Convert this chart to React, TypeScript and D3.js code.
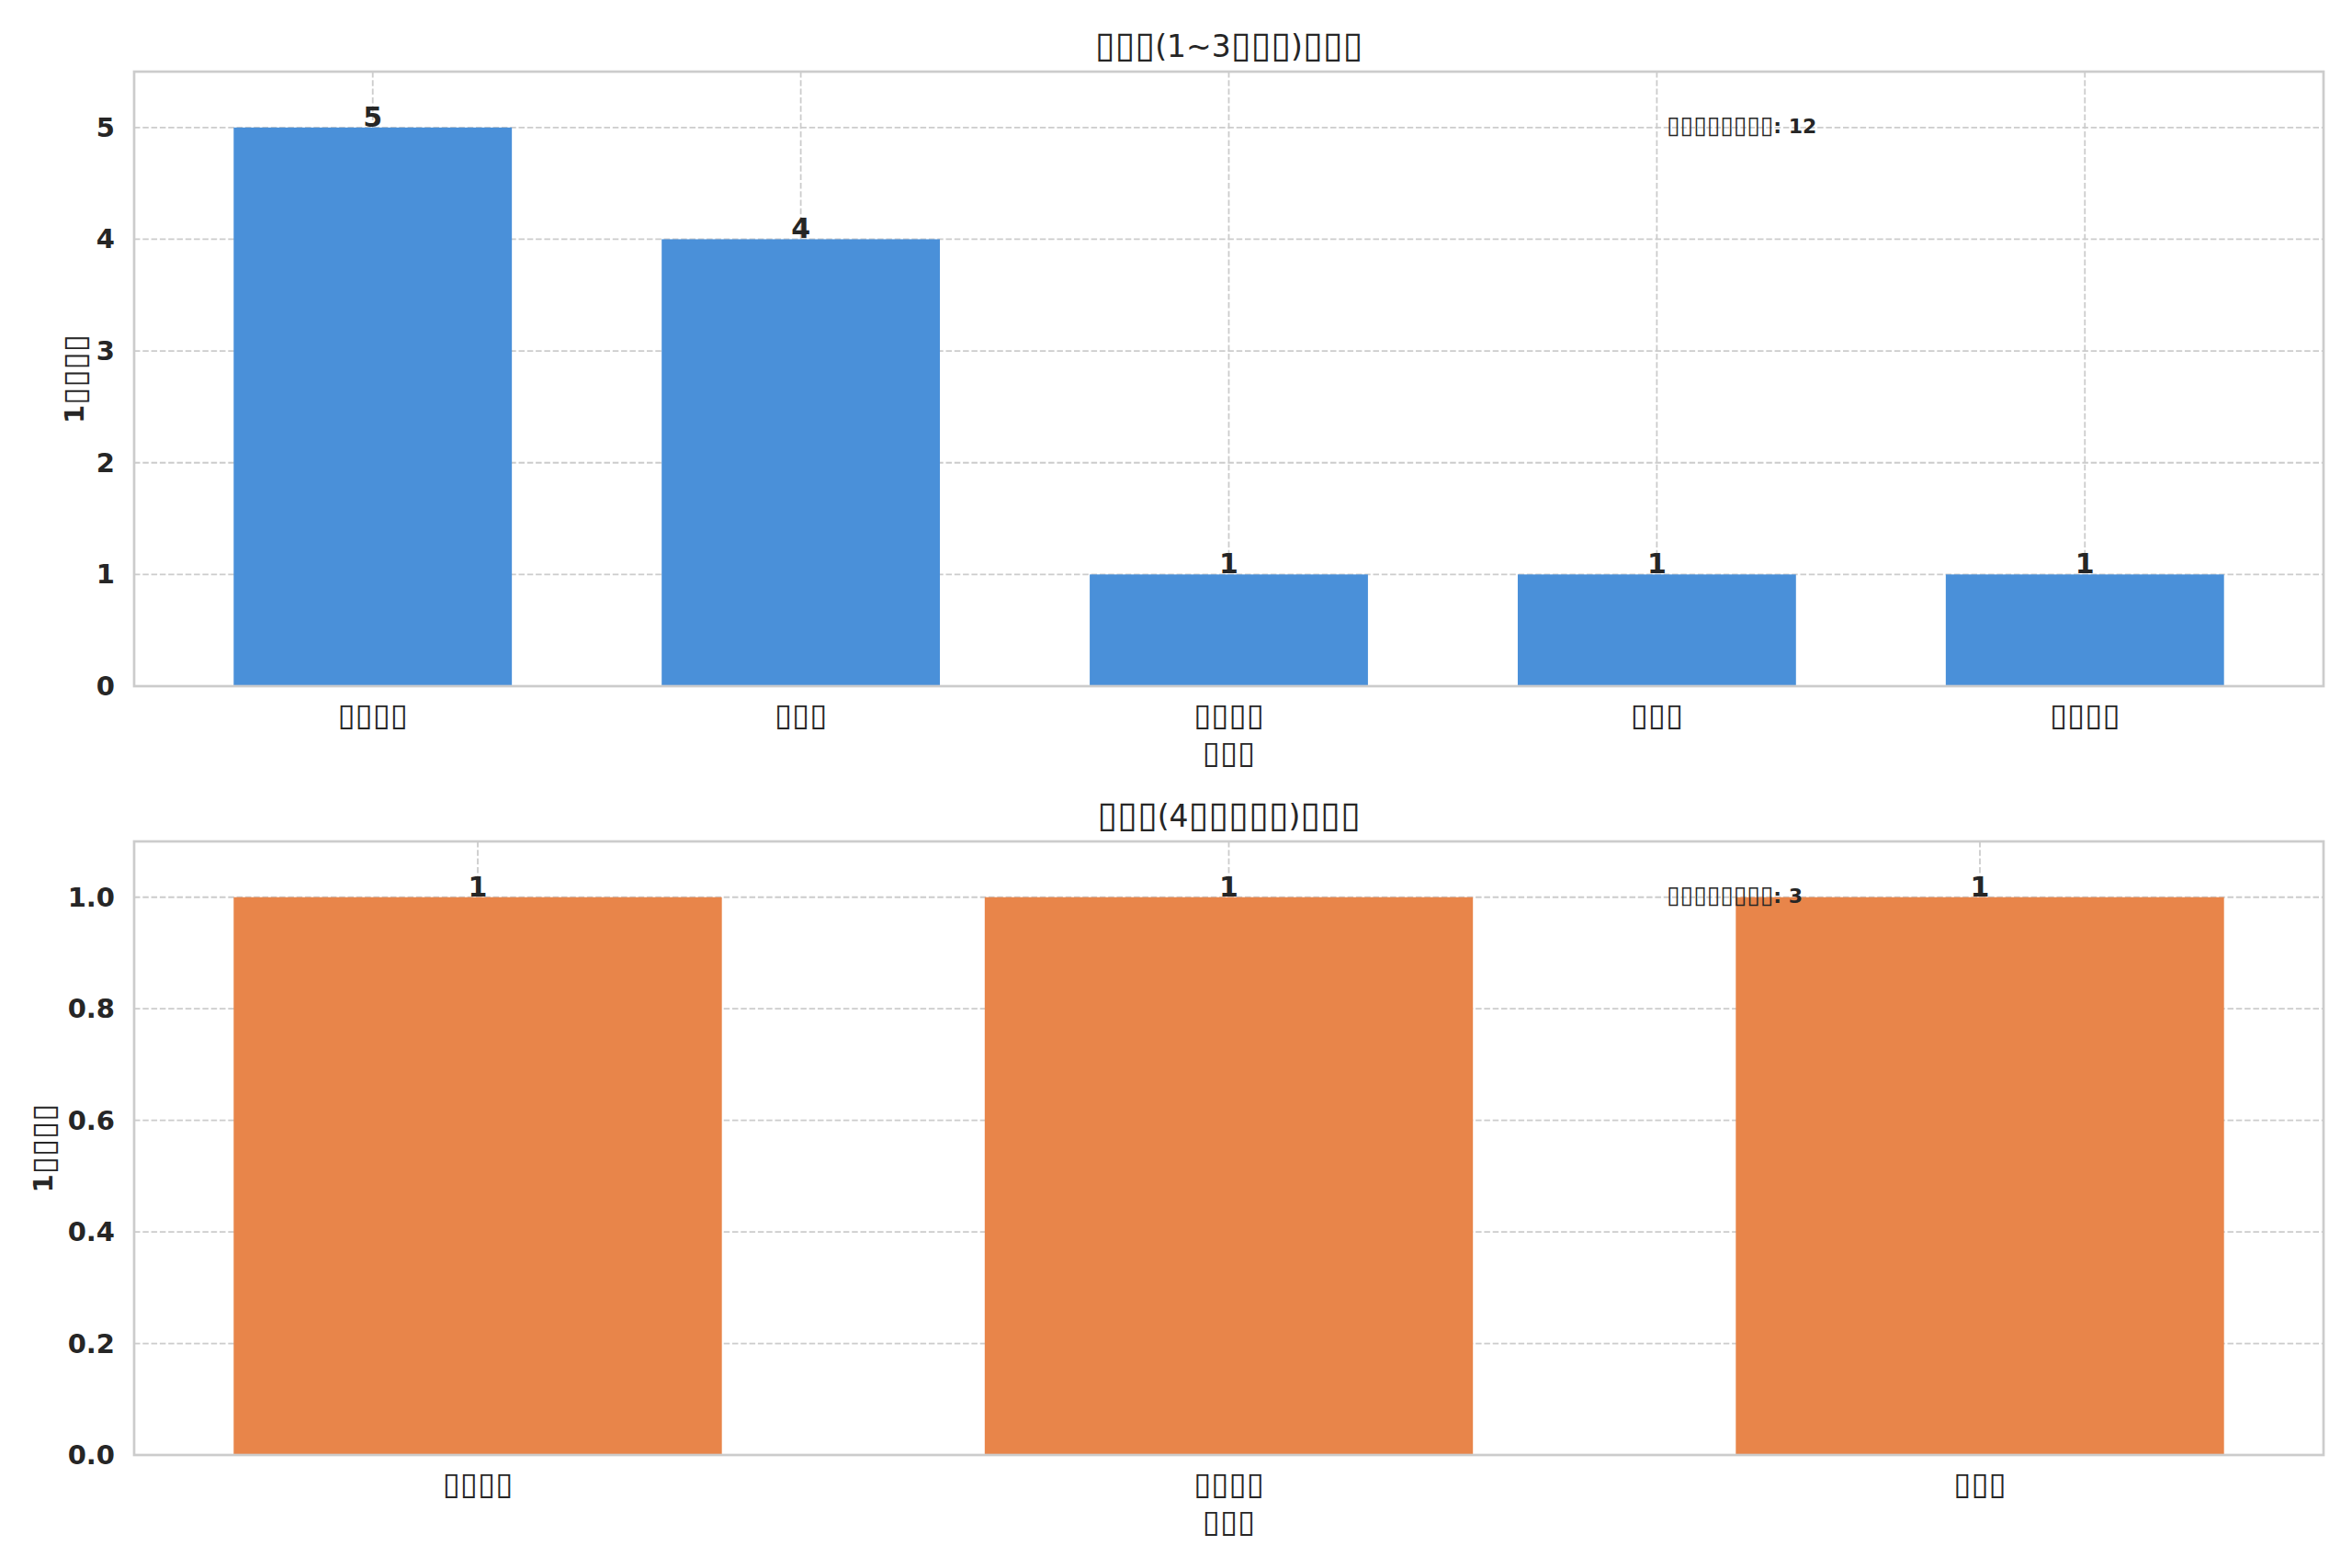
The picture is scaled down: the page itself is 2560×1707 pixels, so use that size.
import * as d3 from 'd3';

// tofu boxes stand in for the CJK glyphs that the source font could not draw
const topCategories = ['▯▯▯▯', '▯▯▯', '▯▯▯▯', '▯▯▯', '▯▯▯▯'];
const topCounts = [5, 4, 1, 1, 1];
const topTicks = [0, 1, 2, 3, 4, 5];

const bottomCategories = ['▯▯▯▯', '▯▯▯▯', '▯▯▯'];
const bottomCounts = [1, 1, 1];
const bottomTicks = [0, 0.2, 0.4, 0.6, 0.8, 1.0];

const topTitle = '▯▯▯(1~3▯▯▯)▯▯▯';
const bottomTitle = '▯▯▯(4▯▯▯▯▯)▯▯▯';
const xLabel = '▯▯▯';
const yLabel = '1▯▯▯▯';
const totalLabel = '▯▯▯▯▯▯▯▯';

const W = 2560;
const H = 1707;
const FONT = '"DejaVu Sans", sans-serif';
const TEXT = '#262626';
const GRID = '#cccccc';

// draw the box runs a bit larger so they fill the room of the missing glyphs
function tofu(s: string) {
  return s.split(/(▯+)/).filter(p => p.length).map((p, i) =>
    p[0] === '▯'
      ? <tspan key={i} style={{ fontSize: '1.2em', fontWeight: 'normal' }}>{p}</tspan>
      : <tspan key={i}>{p}</tspan>
  );
}

interface PanelProps {
  categories: string[];
  values: number[];
  ticks: number[];
  fmt: (v: number) => string;
  color: string;
  title: string;
  y0: number;
  y1: number;
  yLabelX: number;
}

function Panel({ categories, values, ticks, fmt, color, title, y0, y1, yLabelX }: PanelProps) {
  const left = 146;
  const right = 2529;
  const barW = 0.65;
  const n = categories.length;
  const m = 0.05 * (n - 1 + barW);

  const x = d3.scaleLinear()
    .domain([-barW / 2 - m, n - 1 + barW / 2 + m])
    .range([left, right]);
  const y = d3.scaleLinear()
    .domain([0, d3.max(values)! * 1.1])
    .range([y1, y0]);

  const unit = x(1) - x(0);
  const total = d3.sum(values);

  return (
    <g>
      {/* grid */}
      {ticks.map(t => (
        <line key={'h' + t} x1={left} x2={right} y1={y(t)} y2={y(t)}
          stroke={GRID} strokeWidth={1.8} strokeDasharray="6.5,2.8" />
      ))}
      {categories.map((c, i) => (
        <line key={'v' + i} x1={x(i)} x2={x(i)} y1={y0} y2={y1}
          stroke={GRID} strokeWidth={1.8} strokeDasharray="6.5,2.8" />
      ))}

      {/* bars */}
      {values.map((v, i) => (
        <rect key={'b' + i} x={x(i) - (barW * unit) / 2} width={barW * unit}
          y={y(v)} height={y(0) - y(v)} fill={color} />
      ))}

      {/* frame */}
      <rect x={left} y={y0} width={right - left} height={y1 - y0}
        fill="none" stroke={GRID} strokeWidth={2.7} />

      {/* bar values */}
      {values.map((v, i) => (
        <text key={'l' + i} x={x(i)} y={y(v) - 1} textAnchor="middle"
          fontSize={30} fontWeight="bold" fill={TEXT}>{v}</text>
      ))}

      {/* y ticks */}
      {ticks.map(t => (
        <text key={'yt' + t} x={left - 21} y={y(t)} textAnchor="end"
          dominantBaseline="central" fontSize={29} fontWeight="bold" fill={TEXT}>{fmt(t)}</text>
      ))}

      {/* x ticks */}
      {categories.map((c, i) => (
        <text key={'xt' + i} x={x(i)} y={y1 + 43} textAnchor="middle"
          fontSize={29} fill={TEXT}>{tofu(c)}</text>
      ))}

      <text x={(left + right) / 2} y={y1 + 84} textAnchor="middle" fontSize={29} fill={TEXT}>{tofu(xLabel)}</text>

      <text transform={`translate(${yLabelX},${(y0 + y1) / 2}) rotate(-90)`} textAnchor="middle"
        dominantBaseline="central" fontSize={29} fontWeight="bold" fill={TEXT}>{tofu(yLabel)}</text>

      <text x={(left + right) / 2} y={y0 - 16} textAnchor="middle" fontSize={33} fill={TEXT}>{tofu(title)}</text>

      <text x={left + 0.7 * (right - left)} y={y1 - 0.9 * (y1 - y0)} fontSize={22}
        fontWeight="bold" fill={TEXT}>{tofu(`${totalLabel}: ${total}`)}</text>
    </g>
  );
}

export default function App() {
  return (
    <svg width={W} height={H} viewBox={`0 0 ${W} ${H}`}
      style={{ position: 'absolute', left: 0, top: 0, background: '#fff' }}
      fontFamily={FONT}>
      <rect width={W} height={H} fill="#fff" />
      <Panel categories={topCategories} values={topCounts} ticks={topTicks}
        fmt={d3.format('d')} color="#4a90d9" title={topTitle} y0={78} y1={747} yLabelX={81} />
      <Panel categories={bottomCategories} values={bottomCounts} ticks={bottomTicks}
        fmt={d3.format('.1f')} color="#e8854a" title={bottomTitle} y0={916} y1={1584} yLabelX={47} />
    </svg>
  );
}
